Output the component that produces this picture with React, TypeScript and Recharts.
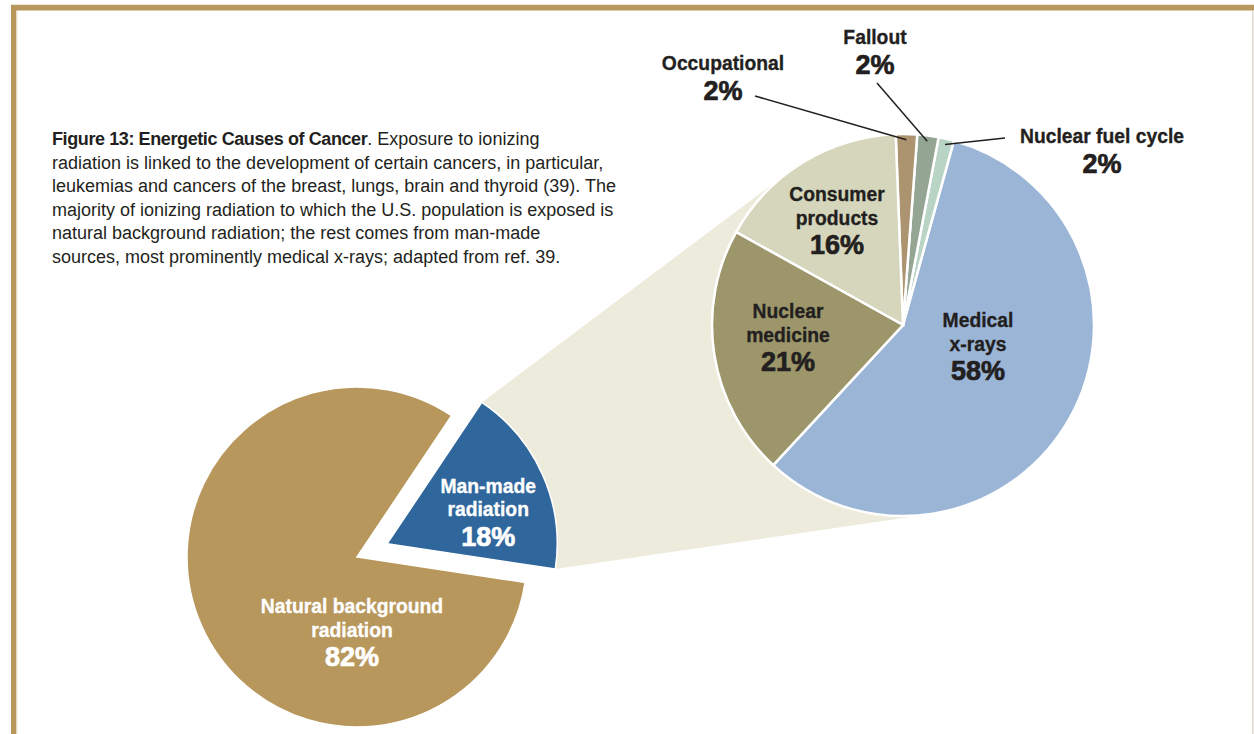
import React from 'react';
import { PieChart, Pie, Cell } from 'recharts';

// Left pie: where the exposure comes from
const LEFT_NAMES = ['Man-made\nradiation', 'Natural background\nradiation'];
const LEFT_VALUES = [18, 82];
const LEFT_PCT = ['18%', '82%'];

// Right pie: breakdown of the man-made share (counter-clockwise from medical)
const RIGHT_NAMES = ['Medical\nx-rays', 'Nuclear fuel cycle', 'Fallout', 'Occupational', 'Consumer\nproducts', 'Nuclear\nmedicine'];
const RIGHT_VALUES = [57.6, 1.3, 1.8, 1.8, 16.3, 21.2];
const RIGHT_PCT = ['58%', '2%', '2%', '2%', '16%', '21%'];

const CAPTION_LINES = [
  'radiation is linked to the development of certain cancers, in particular,',
  'leukemias and cancers of the breast, lungs, brain and thyroid (39). The',
  'majority of ionizing radiation to which the U.S. population is exposed is',
  'natural background radiation; the rest comes from man-made',
  'sources, most prominently medical x-rays; adapted from ref. 39.',
];

const LEFT_COLORS = ['#2f669b', '#b8975c'];
const RIGHT_COLORS = ['#9bb5d6', '#b9d4c5', '#94a594', '#ad9470', '#d5d6bb', '#9c966a'];

const W = 1254;
const H = 734;
const LEFT = { cx: 357, cy: 557, r: 170, start: -8.6, explode: 33 };
const RIGHT = { cx: 903, cy: 325, r: 191, start: -132.8 };

const INK = '#231f20';
const FONT = "'Liberation Sans', Arial, Helvetica, sans-serif";
const NAME_STEP = 23.5;
const PCT_STEP = 29.5;

// label block offsets from the pie centre (first baseline); lead = leader start
const RIGHT_LABEL_POS = [
  { dx: 75, dy: 2 },
  { dx: 199, dy: -182, lead: [102, -187] },
  { dx: -28, dy: -281, lead: [-26, -242] },
  { dx: -180, dy: -255, lead: [-148, -229] },
  { dx: -66, dy: -124 },
  { dx: -115, dy: -7 },
];
const LEFT_LABEL_POS = [
  { dx: 101, dy: -51 },
  { dx: -5, dy: 56 },
];

const RAD = Math.PI / 180;

const LabelBlock = ({ x, y, name, pct, color }: { x: number; y: number; name: string; pct: string; color: string }) => {
  const lines = name.split('\n');
  return (
    <g>
      {lines.map((l, i) => (
        <text
          key={`n-${i}`}
          transform={`translate(${x},${y + i * NAME_STEP}) scale(0.92,1)`}
          textAnchor="middle"
          fontFamily={FONT}
          fontWeight={700}
          fontSize={21}
          fill={color}
          stroke={color}
          strokeWidth={0.35}
        >
          {l}
        </text>
      ))}
      <text
        x={x}
        y={y + (lines.length - 1) * NAME_STEP + PCT_STEP}
        textAnchor="middle"
        fontFamily={FONT}
        fontWeight={700}
        fontSize={27}
        fill={color}
        stroke={color}
        strokeWidth={0.7}
      >
        {pct}
      </text>
    </g>
  );
};

const findIndex = (props: any, names: string[]) => {
  const n = props.name ?? props.payload?.name;
  const i = names.indexOf(n);
  return i >= 0 ? i : props.index ?? 0;
};

const renderRightLabel = (props: any) => {
  const { cx, cy, midAngle, outerRadius } = props;
  const i = findIndex(props, RIGHT_NAMES);
  const pos = RIGHT_LABEL_POS[i];
  const x = cx + pos.dx;
  const y = cy + pos.dy;
  let lead = null;
  if (pos.lead) {
    const ex = cx + outerRadius * 0.97 * Math.cos(-midAngle * RAD);
    const ey = cy + outerRadius * 0.97 * Math.sin(-midAngle * RAD);
    lead = <line x1={cx + pos.lead[0]} y1={cy + pos.lead[1]} x2={ex} y2={ey} stroke={INK} strokeWidth={1.5} />;
  }
  return (
    <g key={`rl-${i}`}>
      {lead}
      <LabelBlock x={x} y={y} name={RIGHT_NAMES[i]} pct={RIGHT_PCT[i]} color={INK} />
    </g>
  );
};

const renderLeftLabel = (props: any) => {
  const { cx, cy } = props;
  const i = findIndex(props, LEFT_NAMES);
  const pos = LEFT_LABEL_POS[i];
  return (
    <g key={`ll-${i}`}>
      <LabelBlock x={cx + pos.dx} y={cy + pos.dy} name={LEFT_NAMES[i]} pct={LEFT_PCT[i]} color="#ffffff" />
    </g>
  );
};

// tangent point on circle (c, r) seen from p; side = +1 / -1
const tangent = (px: number, py: number, cx: number, cy: number, r: number, side: number) => {
  const d = Math.hypot(px - cx, py - cy);
  const phi = Math.atan2(py - cy, px - cx);
  const a = Math.acos(r / d);
  const t = phi + side * a;
  return [cx + r * Math.cos(t), cy + r * Math.sin(t)];
};

export default function App() {
  const leftTotal = LEFT_VALUES.reduce((s, v) => s + v, 0);
  const manSpan = (360 * LEFT_VALUES[0]) / leftTotal;
  const manMid = LEFT.start + manSpan / 2;
  const bx = LEFT.cx + LEFT.explode * Math.cos(manMid * RAD);
  const by = LEFT.cy - LEFT.explode * Math.sin(manMid * RAD);

  const manData = [{ name: LEFT_NAMES[0], value: LEFT_VALUES[0] }];
  const natData = [{ name: LEFT_NAMES[1], value: LEFT_VALUES[1] }];
  const rightData = RIGHT_NAMES.map((name, i) => ({ name, value: RIGHT_VALUES[i] }));

  // connector wedge from the exploded slice to the right pie
  const p1 = [bx + LEFT.r * Math.cos((LEFT.start + manSpan) * RAD), by - LEFT.r * Math.sin((LEFT.start + manSpan) * RAD)];
  const p2 = [bx + LEFT.r * Math.cos(LEFT.start * RAD), by - LEFT.r * Math.sin(LEFT.start * RAD)];
  const t1 = tangent(p1[0], p1[1], RIGHT.cx, RIGHT.cy, RIGHT.r, 1);
  const t2 = tangent(p2[0], p2[1], RIGHT.cx, RIGHT.cy, RIGHT.r, -1);
  const wedge = [p1, t1, t2, p2].map((p) => p.join(',')).join(' ');

  return (
    <div style={{ position: 'absolute', left: 0, top: 0, width: W, height: H, background: '#fff', overflow: 'hidden' }}>
      <svg width={W} height={H} style={{ position: 'absolute', left: 0, top: 0 }}>
        <rect x={11} y={4} width={W - 11} height={1} fill="#ece6dc" />
        <rect x={11} y={5} width={W - 11} height={5.5} fill="#b8975c" />
        <rect x={11} y={5} width={5.5} height={H - 5} fill="#b8975c" />
        <rect x={16.5} y={10.5} width={1} height={H} fill="#efe7d8" />
        <rect x={1252} y={10.5} width={1.5} height={H} fill="#ddd8cc" />
        <polygon points={wedge} fill="#edecdc" />
      </svg>

      <div style={{ position: 'absolute', left: 0, top: 0 }}>
        <PieChart width={W} height={H} margin={{ top: 0, right: 0, bottom: 0, left: 0 }}>
          <Pie
            data={natData}
            dataKey="value"
            nameKey="name"
            cx={LEFT.cx}
            cy={LEFT.cy}
            outerRadius={LEFT.r}
            startAngle={LEFT.start + manSpan}
            endAngle={LEFT.start + 360}
            stroke="#fff"
            strokeWidth={1.5}
            label={renderLeftLabel}
            labelLine={false}
            isAnimationActive={false}
          >
            <Cell fill={LEFT_COLORS[1]} />
          </Pie>
          <Pie
            data={manData}
            dataKey="value"
            nameKey="name"
            cx={bx}
            cy={by}
            outerRadius={LEFT.r}
            startAngle={LEFT.start}
            endAngle={LEFT.start + manSpan}
            stroke="#fff"
            strokeWidth={1.5}
            label={renderLeftLabel}
            labelLine={false}
            isAnimationActive={false}
          >
            <Cell fill={LEFT_COLORS[0]} />
          </Pie>
          <Pie
            data={rightData}
            dataKey="value"
            nameKey="name"
            cx={RIGHT.cx}
            cy={RIGHT.cy}
            outerRadius={RIGHT.r}
            startAngle={RIGHT.start}
            endAngle={RIGHT.start + 360}
            stroke="#fff"
            strokeWidth={2.5}
            label={renderRightLabel}
            labelLine={false}
            isAnimationActive={false}
          >
            {rightData.map((d, i) => (
              <Cell key={`c-${d.name}`} fill={RIGHT_COLORS[i]} />
            ))}
          </Pie>
        </PieChart>
      </div>

      <div
        style={{
          position: 'absolute',
          left: 52,
          top: 128,
          fontFamily: FONT,
          fontSize: 18,
          lineHeight: '23.5px',
          color: INK,
          whiteSpace: 'nowrap',
        }}
      >
        <div>
          <span style={{ fontWeight: 700, letterSpacing: -0.4 }}>Figure 13: Energetic Causes of Cancer</span>. Exposure to ionizing
        </div>
        {CAPTION_LINES.map((l) => (
          <div key={l}>{l}</div>
        ))}
      </div>
    </div>
  );
}
